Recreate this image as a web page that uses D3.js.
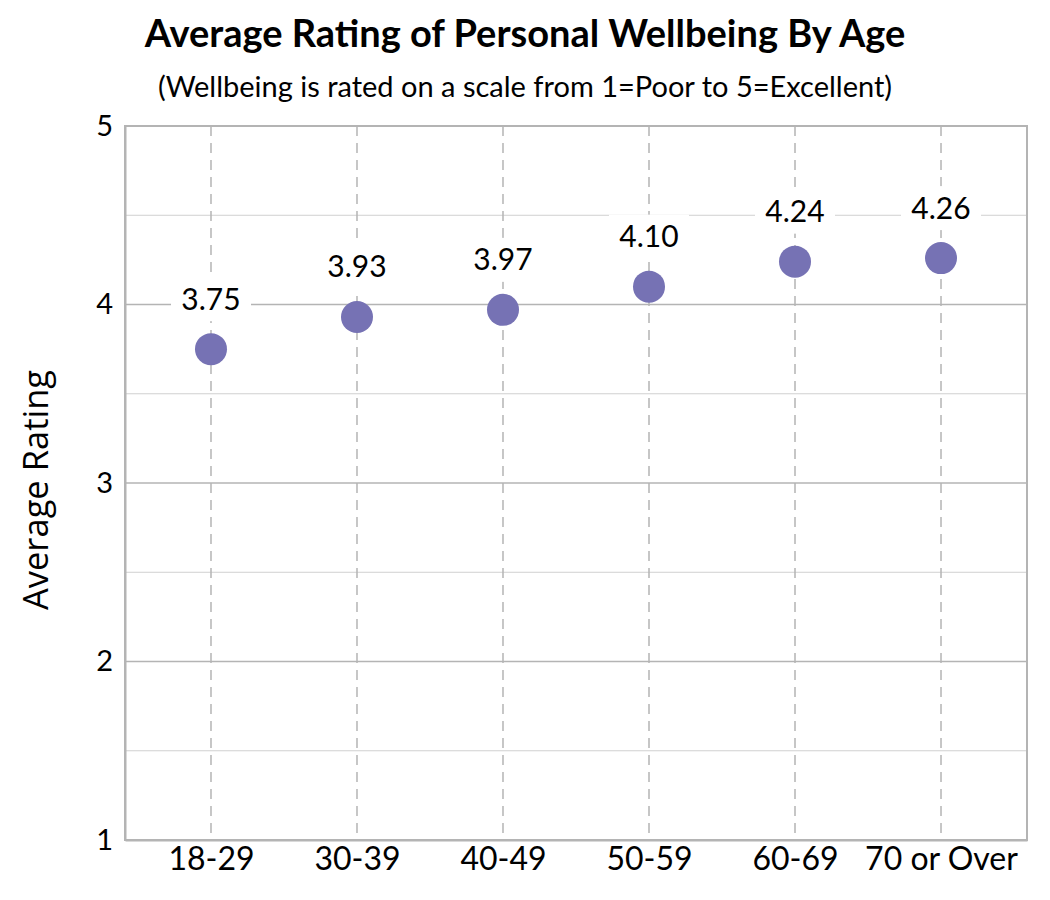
<!DOCTYPE html>
<html>
<head>
<meta charset="utf-8">
<script src="https://cdn.jsdelivr.net/npm/d3@7"></script>
<style>
  html, body { margin: 0; padding: 0; background: #fff; }
  svg { display: block; }
</style>
</head>
<body>
<svg id="chart" width="1050" height="900"></svg>
<script>
const categories = ["18-29", "30-39", "40-49", "50-59", "60-69", "70 or Over"];
const values = [3.75, 3.93, 3.97, 4.10, 4.24, 4.26];
const yTicks = [1, 2, 3, 4, 5];
const yMinorTicks = [1.5, 2.5, 3.5, 4.5];
const titleText = "Average Rating of Personal Wellbeing By Age";
const subtitleText = "(Wellbeing is rated on a scale from 1=Poor to 5=Excellent)";
const yTitle = "Average Rating";

const svg = d3.select("#chart");
const margin = { left: 125, right: 23, top: 126, bottom: 60 };
const W = 1050, H = 900;
const pw = W - margin.left - margin.right;
const ph = H - margin.top - margin.bottom;

const baseFont = "Lato, 'Open Sans', sans-serif";

const x = d3.scalePoint().domain(categories).range([0, pw]).padding(0.589);
const y = d3.scaleLinear().domain([1, 5]).range([ph, 0]);

const g = svg.append("g").attr("transform", `translate(${margin.left},${margin.top})`);

// minor gridlines
g.append("g").selectAll("line").data(yMinorTicks).join("line")
  .attr("x1", 0).attr("x2", pw)
  .attr("y1", d => y(d)).attr("y2", d => y(d))
  .attr("stroke", "#d0d0d0").attr("stroke-width", 1);

// major gridlines
g.append("g").selectAll("line").data(yTicks).join("line")
  .attr("x1", 0).attr("x2", pw)
  .attr("y1", d => y(d)).attr("y2", d => y(d))
  .attr("stroke", "#b4b4b4").attr("stroke-width", 1.5);

// dashed vertical lines
g.append("g").selectAll("line").data(categories).join("line")
  .attr("x1", d => x(d)).attr("x2", d => x(d))
  .attr("y1", 0).attr("y2", ph)
  .attr("stroke", "#b4b4b4").attr("stroke-width", 1.5)
  .attr("stroke-dasharray", "10,7");

// frame
g.append("rect").attr("x", 0).attr("y", 0).attr("width", pw).attr("height", ph)
  .attr("fill", "none").attr("stroke", "#b4b4b4").attr("stroke-width", 2);

// y axis
const yAxis = g.append("g").call(d3.axisLeft(y).tickValues(yTicks).tickFormat(d3.format("d")).tickSize(0).tickPadding(12));
yAxis.select(".domain").attr("stroke", "#b4b4b4").attr("stroke-width", 2);
yAxis.selectAll("text").attr("font-family", baseFont).attr("font-size", 29).attr("fill", "#000");

// x axis
const xAxis = g.append("g").attr("transform", `translate(0,${ph})`)
  .call(d3.axisBottom(x).tickSize(0).tickPadding(7));
xAxis.select(".domain").attr("stroke", "#b4b4b4").attr("stroke-width", 2);
xAxis.selectAll("text").attr("font-family", baseFont).attr("font-size", 32).attr("fill", "#000");

// data labels with white background
const labels = g.append("g").selectAll("g").data(values).join("g")
  .attr("transform", (d, i) => `translate(${x(categories[i])},${y(d) - 50})`);
labels.append("rect")
  .attr("x", -40).attr("y", -22).attr("width", 80).attr("height", 44)
  .attr("fill", "#fff");
labels.append("text")
  .attr("text-anchor", "middle").attr("dy", "0.35em")
  .attr("font-family", baseFont).attr("font-size", 30).attr("fill", "#000")
  .text(d => d.toFixed(2));

// points
g.append("g").selectAll("circle").data(values).join("circle")
  .attr("cx", (d, i) => x(categories[i])).attr("cy", d => y(d))
  .attr("r", 16).attr("fill", "#7672b4");

// titles
svg.append("text").attr("x", 525).attr("y", 47).attr("text-anchor", "middle")
  .attr("font-family", baseFont).attr("font-weight", "bold").attr("font-size", 38)
  .attr("fill", "#000").text(titleText);
svg.append("text").attr("x", 525).attr("y", 97).attr("text-anchor", "middle")
  .attr("font-family", baseFont).attr("font-size", 29)
  .attr("fill", "#000").text(subtitleText);

// y axis title
svg.append("text")
  .attr("transform", `translate(48,${margin.top + ph / 2 + 7}) rotate(-90)`)
  .attr("text-anchor", "middle")
  .attr("font-family", "'Open Sans', 'DejaVu Sans', sans-serif").attr("font-size", 34.5)
  .attr("fill", "#000").text(yTitle);
</script>
</body>
</html>
